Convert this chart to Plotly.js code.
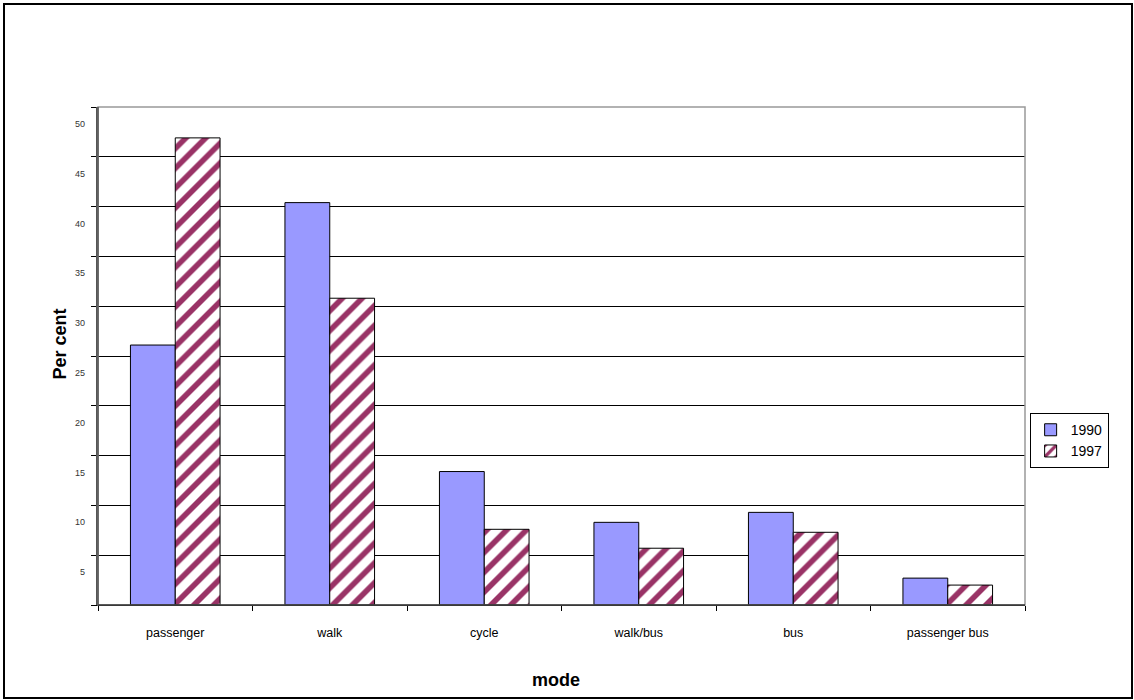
<!DOCTYPE html>
<html>
<head>
<meta charset="utf-8">
<script src="https://cdn.plot.ly/plotly-3.0.1.min.js"></script>
<style>
  html, body { margin: 0; padding: 0; background: #fff; }
  #chart { width: 1134px; height: 700px; }
</style>
</head>
<body>
<div id="chart"></div>
<script>
const categories = ["passenger", "walk", "cycle", "walk/bus", "bus", "passenger bus"];
const values1990 = [26.1, 40.4, 13.4, 8.3, 9.3, 2.7];
const values1997 = [46.9, 30.8, 7.6, 5.7, 7.3, 2.0];
const seriesNames = ["1990", "1997"];
const yTickVals = [0, 5, 10, 15, 20, 25, 30, 35, 40, 45, 50];
const yTickText = ["0", "5", "10", "15", "20", "25", "30", "35", "40", "45", "50"];

const FONT = "Arial, 'Liberation Sans', sans-serif";
const labelShift = 1.7; // tick labels sit slightly below their gridlines in the reference

const traces = [
  {
    type: "bar", name: seriesNames[0], x: categories, y: values1990,
    marker: { color: "#9999FF", line: { color: "#000", width: 1 } },
    hoverinfo: "x+y+name"
  },
  {
    type: "bar", name: seriesNames[1], x: categories, y: values1997,
    marker: {
      color: "#FFFFFF",
      line: { color: "#000", width: 1 },
      pattern: { shape: "/", fgcolor: "#993366", bgcolor: "#FFFFFF", size: 14, solidity: 0.4 }
    },
    hoverinfo: "x+y+name"
  },
  {
    type: "scatter", x: [], y: [], yaxis: "y2", showlegend: false, hoverinfo: "skip"
  }
];

const layout = {
  width: 1134, height: 700,
  margin: { l: 98, r: 109, t: 107, b: 95 },
  paper_bgcolor: "#fff", plot_bgcolor: "#fff",
  font: { family: FONT, size: 12, color: "#000" },
  barmode: "group", bargap: 0.42, bargroupgap: 0,
  showlegend: true,
  legend: {
    x: 1.005, xanchor: "left", y: 0.33, yanchor: "middle",
    bordercolor: "#000", borderwidth: 1, bgcolor: "#fff",
    font: { family: FONT, size: 14, color: "#000" },
    itemwidth: 30, tracegroupgap: 0
  },
  xaxis: {
    type: "category",
    showgrid: false, zeroline: false,
    showline: true, linecolor: "#000", linewidth: 1,
    ticks: "outside", tickson: "boundaries", ticklen: 5, tickcolor: "#000",
    tickfont: { family: FONT, size: 12.5, color: "#000" },
    ticklabelstandoff: 16
  },
  yaxis: {
    range: [0, 50], tickvals: yTickVals, showticklabels: false,
    showgrid: true, gridcolor: "#000", gridwidth: 1, zeroline: false,
    showline: true, linecolor: "#555", linewidth: 1.5,
    ticks: "outside", ticklen: 5, tickcolor: "#000"
  },
  yaxis2: {
    overlaying: "y", side: "left", range: [0, 50],
    tickvals: yTickVals.map(v => v - labelShift), ticktext: yTickText,
    showgrid: false, zeroline: false, showline: false, ticks: "",
    tickfont: { family: FONT, size: 9, color: "#333" },
    ticklabelstandoff: 12
  },
  shapes: [
    { type: "rect", xref: "paper", yref: "paper", x0: 0, x1: 1, y0: 0, y1: 1,
      line: { color: "#999", width: 1.5 }, layer: "above" },
    { type: "line", xref: "paper", yref: "paper", x0: 0, x1: 1, y0: 0, y1: 0,
      line: { color: "#000", width: 1 }, layer: "above" },
    { type: "line", xref: "paper", yref: "paper", x0: 0, x1: 0, y0: 0, y1: 1,
      line: { color: "#555", width: 1.5 }, layer: "above" }
  ],
  annotations: [
    { text: "<b>Per cent</b>", xref: "paper", yref: "paper",
      x: -0.041, y: 0.525, xanchor: "center", yanchor: "middle", textangle: -90,
      showarrow: false, font: { family: FONT, size: 18, color: "#000" } },
    { text: "<b>mode</b>", xref: "paper", yref: "paper",
      x: 0.494, y: -0.151, xanchor: "center", yanchor: "middle",
      showarrow: false, font: { family: FONT, size: 18, color: "#000" } }
  ]
};

Plotly.newPlot("chart", traces, layout, { displayModeBar: false });
</script>
<div style="position:absolute; left:3px; top:3px; width:1126px; height:692px; border:2px solid #000; pointer-events:none;"></div>
</body>
</html>
